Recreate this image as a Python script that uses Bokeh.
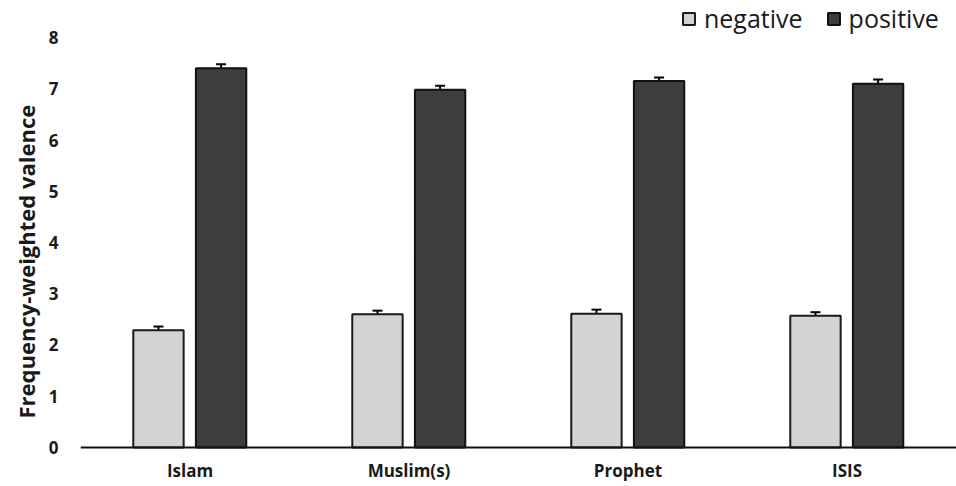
from bokeh.plotting import figure
from bokeh.models import (ColumnDataSource, FactorRange, Range1d, FixedTicker, Whisker,
                          Legend, LegendItem, Span, Title)
from bokeh.core.properties import value
from bokeh.transform import dodge
from bokeh.embed import file_html
from bokeh.resources import INLINE

categories = ["Islam", "Muslim(s)", "Prophet", "ISIS"]
negative = [2.29, 2.60, 2.61, 2.57]
positive = [7.40, 6.98, 7.15, 7.10]
negative_err = [0.07, 0.07, 0.08, 0.07]
positive_err = [0.08, 0.08, 0.07, 0.08]
y_ticks = [0, 1, 2, 3, 4, 5, 6, 7, 8]

src = ColumnDataSource(dict(
    cat=categories, neg=negative, pos=positive,
    neg_lo=[v - e for v, e in zip(negative, negative_err)],
    neg_hi=[v + e for v, e in zip(negative, negative_err)],
    pos_lo=[v - e for v, e in zip(positive, positive_err)],
    pos_hi=[v + e for v, e in zip(positive, positive_err)],
))

p = figure(x_range=FactorRange(factors=categories, range_padding=0),
           y_range=Range1d(-0.761, 8.722), width=956, height=486,
           output_backend="svg", toolbar_location=None, x_axis_location=None,
           min_border_top=0, min_border_right=0, min_border_left=80, min_border_bottom=0)

FONT = "Open Sans"
TXT = "#1a1a1a"
w = 0.23
r_neg = p.vbar(x=dodge("cat", -0.144, range=p.x_range), top="neg", width=w, source=src,
               fill_color="#d3d3d3", line_color="#1a1a1a", line_width=2)
r_pos = p.vbar(x=dodge("cat", 0.142, range=p.x_range), top="pos", width=w, source=src,
               fill_color="#3d3d3d", line_color="#111111", line_width=2)

for xo, lo, hi in [(-0.144, "neg_lo", "neg_hi"), (0.142, "pos_lo", "pos_hi")]:
    wk = Whisker(base=dodge("cat", xo, range=p.x_range), lower=lo, upper=hi, source=src,
                 line_color="black", line_width=2)
    wk.upper_head.size = 10
    wk.lower_head.size = 10
    wk.upper_head.line_width = 2
    wk.lower_head.line_width = 2
    p.add_layout(wk)

# baseline (category axis line) and category labels
p.add_layout(Span(location=0, dimension="width", line_color="#111111", line_width=2))
p.text(x="cat", y=0, text="cat", source=src, y_offset=23,
       text_align="center", text_baseline="middle",
       text_font=value(FONT), text_font_style="bold", text_font_size="17px", text_color=TXT)

p.xgrid.visible = False
p.ygrid.visible = False
p.outline_line_color = None

p.yaxis.ticker = FixedTicker(ticks=y_ticks)
p.yaxis.axis_line_color = None
p.yaxis.major_tick_line_color = None
p.yaxis.minor_tick_line_color = None
p.yaxis.major_label_standoff = 16
p.yaxis.major_label_text_font = FONT
p.yaxis.major_label_text_font_style = "bold"
p.yaxis.major_label_text_font_size = "17px"
p.yaxis.major_label_text_color = TXT

ytitle = Title(text="Frequency-weighted valence", align="left", offset=68,
               text_font=FONT, text_font_style="bold", text_font_size="22px", text_color=TXT,
               standoff=10)
p.add_layout(ytitle, "left")

legend = Legend(items=[LegendItem(label="negative", renderers=[r_neg]),
                       LegendItem(label="positive", renderers=[r_pos])],
                location=(601, 451), orientation="horizontal",
                label_text_font=FONT, label_text_font_size="25px", label_text_color=TXT,
                glyph_width=15, glyph_height=15, label_standoff=8, spacing=23,
                border_line_color=None, background_fill_alpha=0, margin=0, padding=0)
p.add_layout(legend)

open("out.html", "w").write(file_html(p, INLINE))
